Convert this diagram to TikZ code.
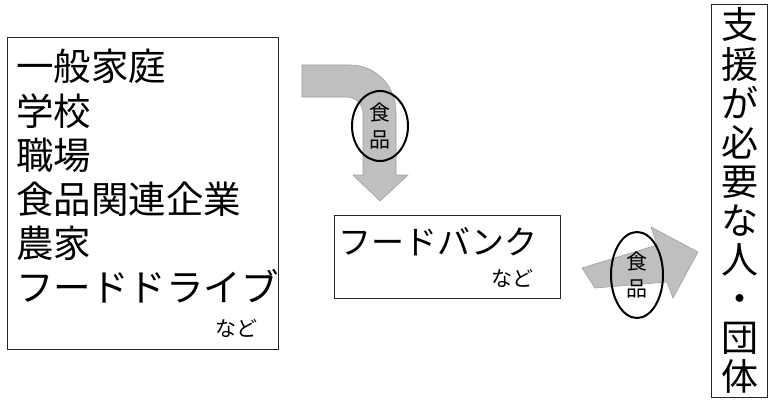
\documentclass[tikz,border=0pt]{standalone}
\usepackage{fontspec}
\newfontfamily\jp{Noto Sans CJK JP}
\usetikzlibrary{shapes.geometric}

\begin{document}
\begin{tikzpicture}[x=1pt,y=-1pt,
    box/.style={draw=black!85,line width=0.8pt},
    flow/.style={fill=gray!50,draw=gray!75,line width=0.6pt},
    foodtag/.style={draw,ellipse,line width=2pt,inner sep=0pt,align=center,
      font={\jp\fontsize{21}{27}\selectfont}},
    item/.style={anchor=base west,inner sep=0pt,font={\jp\fontsize{37.5}{44}\selectfont}},
    etc/.style={anchor=base,inner sep=0pt,font={\jp\fontsize{21}{24}\selectfont}}]
  \useasboundingbox (0,0) rectangle (776,404);
  % Curved arrow from the givers down to the bank
  \draw[flow] (302,65) -- (350,65) .. controls (376,65) and (396,86) .. (396,112)
    -- (396,175) -- (408,175) -- (380,201) -- (353,175) -- (363,175) -- (363,114)
    .. controls (363,104) and (356,97) .. (346,97) -- (302,97) -- cycle;
  % Straight arrow from the bank to the receivers
  \draw[flow] (582,268) -- (657,245) -- (651,227) -- (698,252) -- (673,298)
    -- (667,282) -- (595,288) -- cycle;
  % Food tags on the arrows
  \node[foodtag,minimum width=56pt,minimum height=70pt] (tag1) at (380,126) {食\\品};
  \node[foodtag,minimum width=52pt,minimum height=86pt] (tag2) at (637,275) {食\\品};
  % Givers
  \draw[box] (7,37) rectangle (278,349);
  \foreach \t [count=\i] in {一般家庭,学校,職場,食品関連企業,農家,フードドライブ} {
    \node[item] (src\i) at (16,{81+44*(\i-1)}) {\t};
  }
  \node[etc] (srcetc) at (236,336) {など};
  % Food bank
  \draw[box] (334,215) rectangle (560,298);
  \node[item,font={\jp\fontsize{33}{40}\selectfont}] (bank) at (338,254.5) {フードバンク};
  \node[etc] (banketc) at (512,286) {など};
  % Receivers, written top to bottom
  \draw[box] (711,4) rectangle (767,397);
  \foreach \c [count=\i] in {支,援,が,必,要,な,人,・,団,体} {
    \node[etc,font={\jp\fontsize{37}{40}\selectfont}] (need\i) at (740,{39+39*(\i-1)}) {\c};
  }
\end{tikzpicture}
\end{document}
